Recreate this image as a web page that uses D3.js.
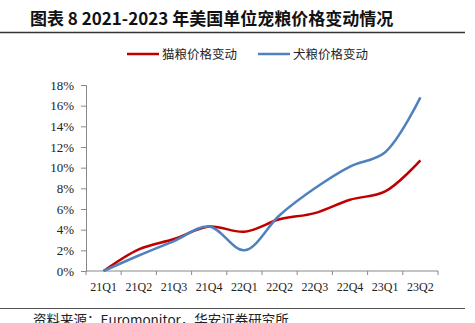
<!DOCTYPE html>
<html><head><meta charset="utf-8">
<script src="https://cdn.jsdelivr.net/npm/d3@7"></script>
<style>body{margin:0;background:#fff}svg{display:block}</style>
</head><body>
<svg id="c" width="475" height="323"></svg>
<script>
const categories = ["21Q1","21Q2","21Q3","21Q4","22Q1","22Q2","22Q3","22Q4","23Q1","23Q2"];
const catFood = [0, 2.1, 3.1, 4.3, 3.8, 5.0, 5.6, 6.9, 7.7, 10.7];
const dogFood = [0, 1.5, 2.9, 4.3, 2.0, 5.4, 8.0, 10.1, 11.5, 16.8];
const seriesNames = ["猫粮价格变动", "犬粮价格变动"];
const yTicks = [0,2,4,6,8,10,12,14,16,18];
const colors = ["#C00000", "#4F81BD"];

(function(){
const svg = d3.select("#c");
const pLeft = 86, pRight = 438, pTop = 85, pBottom = 271;

svg.append("text").attr("x", 30).attr("y", 25)
  .attr("font-family", "'Noto Sans CJK SC', sans-serif").attr("font-weight", "bold")
  .attr("font-size", 17).attr("fill", "#111")
  .text("图表 8 2021-2023 年美国单位宠粮价格变动情况");
svg.append("line").attr("x1", 0).attr("x2", 465).attr("y1", 32.5).attr("y2", 32.5)
  .attr("stroke", "#333").attr("stroke-width", 1.5);

const x = d3.scaleBand().domain(categories).range([pLeft, pRight]);
const y = d3.scaleLinear().domain([0, 18]).range([pBottom, pTop]);

const yAxis = svg.append("g").attr("transform", `translate(${pLeft},0)`)
  .call(d3.axisLeft(y).tickValues(yTicks).tickFormat(d => d + "%").tickSize(5).tickPadding(7));
const xAxis = svg.append("g").attr("transform", `translate(0,${pBottom})`)
  .call(d3.axisBottom(x).tickSize(0).tickPadding(11));
const bounds = categories.map(c => x(c)).concat([pRight]);
xAxis.selectAll(".bt").data(bounds).enter().append("line").attr("class","bt")
  .attr("x1", d => d).attr("x2", d => d).attr("y1", 0).attr("y2", 4).attr("stroke", "#888");
[yAxis, xAxis].forEach(g => {
  g.selectAll("path.domain").attr("stroke", "#888");
  g.selectAll(".tick line").attr("stroke", "#888");
  g.selectAll("text").attr("font-family", "'Liberation Serif', serif").attr("fill", "#222");
});
yAxis.selectAll("text").attr("font-size", 13);
xAxis.selectAll("text").attr("font-size", 12);
xAxis.select("path.domain").attr("d", `M${pLeft},0H${pRight}`);

const line = d3.line().x((d, i) => x(categories[i]) + x.bandwidth() / 2).y(d => y(d))
  .curve(d3.curveCatmullRom.alpha(0.5));
[catFood, dogFood].forEach((s, k) => {
  svg.append("path").attr("d", line(s)).attr("fill", "none")
    .attr("stroke", colors[k]).attr("stroke-width", 2.5);
});

const legX = [127, 258];
seriesNames.forEach((n, k) => {
  svg.append("line").attr("x1", legX[k]).attr("x2", legX[k] + 32).attr("y1", 54).attr("y2", 54)
    .attr("stroke", colors[k]).attr("stroke-width", 2.5);
  svg.append("text").attr("x", legX[k] + 35).attr("y", 58.5)
    .attr("font-family", "'Noto Sans CJK SC', sans-serif").attr("font-size", 12.5).attr("fill", "#222")
    .text(n);
});

svg.append("line").attr("x1", 0).attr("x2", 465).attr("y1", 308.5).attr("y2", 308.5)
  .attr("stroke", "#555").attr("stroke-width", 1.2);
svg.append("text").attr("x", 33).attr("y", 325)
  .attr("font-family", "'Noto Sans CJK SC', sans-serif").attr("font-size", 13.5).attr("fill", "#222")
  .text("资料来源：Euromonitor，华安证券研究所");
})();
</script>
</body></html>
